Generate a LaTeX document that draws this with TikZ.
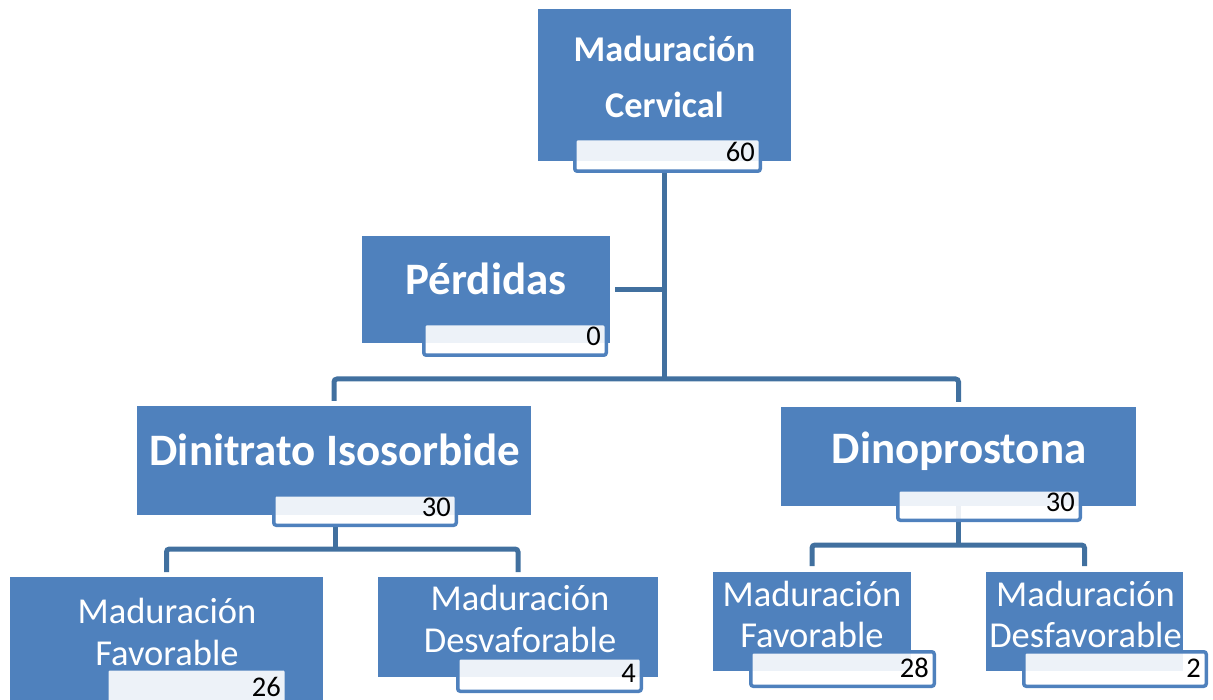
\documentclass[tikz,border=0pt]{standalone}
\usepackage{fontspec}
\setmainfont{Carlito}
\definecolor{boxblue}{HTML}{4F81BD}
\definecolor{linkblue}{HTML}{41709F}
\newcommand\numlab[6]{%
  \node[lab, minimum width={#4-#2-3.5}, minimum height={#5-#3-3.5}] (#1) at ({#2+1.75},{#3+1.75}) {};
  \node[num] (#1N) at ([xshift=-5.25pt,yshift=9.25pt]#1.south east) {#6};
}
\newcommand\orgbox[5]{%
  \node[box, minimum width={#4-#2}, minimum height={#5-#3}] (#1) at (#2,#3) {};
}
\begin{document}
\begin{tikzpicture}[x=1pt,y=-1pt,
  box/.style={fill=boxblue, draw=none, inner sep=0pt, outer sep=0pt, anchor=north west},
  lab/.style={draw=boxblue, line width=3.5pt, fill=white, fill opacity=0.9, rounded corners=2.5pt, inner sep=0pt, outer sep=0pt, anchor=north west},
  num/.style={text=black, font=\fontsize{28.5}{28.5}\selectfont, inner sep=0pt, anchor=base east},
  ttl/.style={text=white, font=\bfseries\fontsize{36.3}{36}\selectfont, anchor=base, inner sep=0pt},
  big/.style={text=white, font=\bfseries\fontsize{45}{45}\selectfont, anchor=base, inner sep=0pt},
  sub/.style={text=white, font=\fontsize{36.5}{36}\selectfont, anchor=base, inner sep=0pt},
  conn/.style={draw=linkblue, line width=5pt},
  rc/.style={rounded corners=3pt}]
\useasboundingbox (0,0) rectangle (1213,700);
\clip (0,0) rectangle (1213,700);

% boxes
\orgbox{main}{538}{9}{791}{161}
\orgbox{perd}{362}{236}{610}{343}
\orgbox{dini}{137}{406}{531}{515}
\orgbox{dino}{781}{407}{1136}{506}
\orgbox{mfa}{10}{577}{323}{720}
\orgbox{mda}{378}{577}{658}{677}
\orgbox{mfb}{713}{572}{911}{671}
\orgbox{mdb}{986}{572}{1183}{671}

% titles
\node[ttl] (mainTa) at (664.5,62) {Maduración};
\node[ttl] (mainTb) at (664.5,118) {Cervical};
\node[big] (perdT) at (486,295) {Pérdidas};
\node[big] (diniT) at (335,465) {Dinitrato Isosorbide};
\node[big] (dinoT) at (959,463) {Dinoprostona};
\node[sub] (mfaTa) at (167,623) {Maduración};
\node[sub] (mfaTb) at (167,665) {Favorable};
\node[sub] (mdaTa) at (520,610) {Maduración};
\node[sub] (mdaTb) at (520,652) {Desvaforable};
\node[sub] (mfbTa) at (812,606) {Maduración};
\node[sub] (mfbTb) at (812,647) {Favorable};
\node[sub] (mdbTa) at (1085.5,606) {Maduración};
\node[sub] (mdbTb) at (1085.5,647) {Desfavorable};

% connectors
\coordinate (j0) at (664,379);
\coordinate (j1) at (335,549);
\coordinate (j2) at (958.5,545);
\draw[conn] (main.south -| j0) ++(0,-12pt) -- (j0);
\draw[conn] ([xshift=5pt]perd.east) -- (perd.east -| j0);
\draw[conn, rc] ([yshift=5pt]dini.north) |- (j0) -| ([yshift=5pt]dino.north);
\draw[conn] (dini.south -| j1) ++(0,-12pt) -- (j1);
\draw[conn, rc] ([yshift=5pt]mfa.north) |- (j1) -| ([yshift=5pt]mda.north);
\draw[conn] (dino.south -| j2) -- (j2);
\draw[conn, rc] ([yshift=6pt]mfb.north) |- (j2) -| ([yshift=6pt]mdb.north);

% value labels
\numlab{mainL}{573}{137}{762}{173}{60}
\numlab{perdL}{422}{322}{608}{357}{0}
\numlab{diniL}{272}{493}{458}{527}{30}
\numlab{dinoL}{896}{488}{1082}{522}{30}
\numlab{mfaL}{105}{667}{288}{707}{26}
\numlab{mdaL}{456}{656}{643}{693}{4}
\numlab{mfbL}{749}{650}{936}{688}{28}
\numlab{mdbL}{1022}{650}{1208}{688}{2}
\end{tikzpicture}
\end{document}
